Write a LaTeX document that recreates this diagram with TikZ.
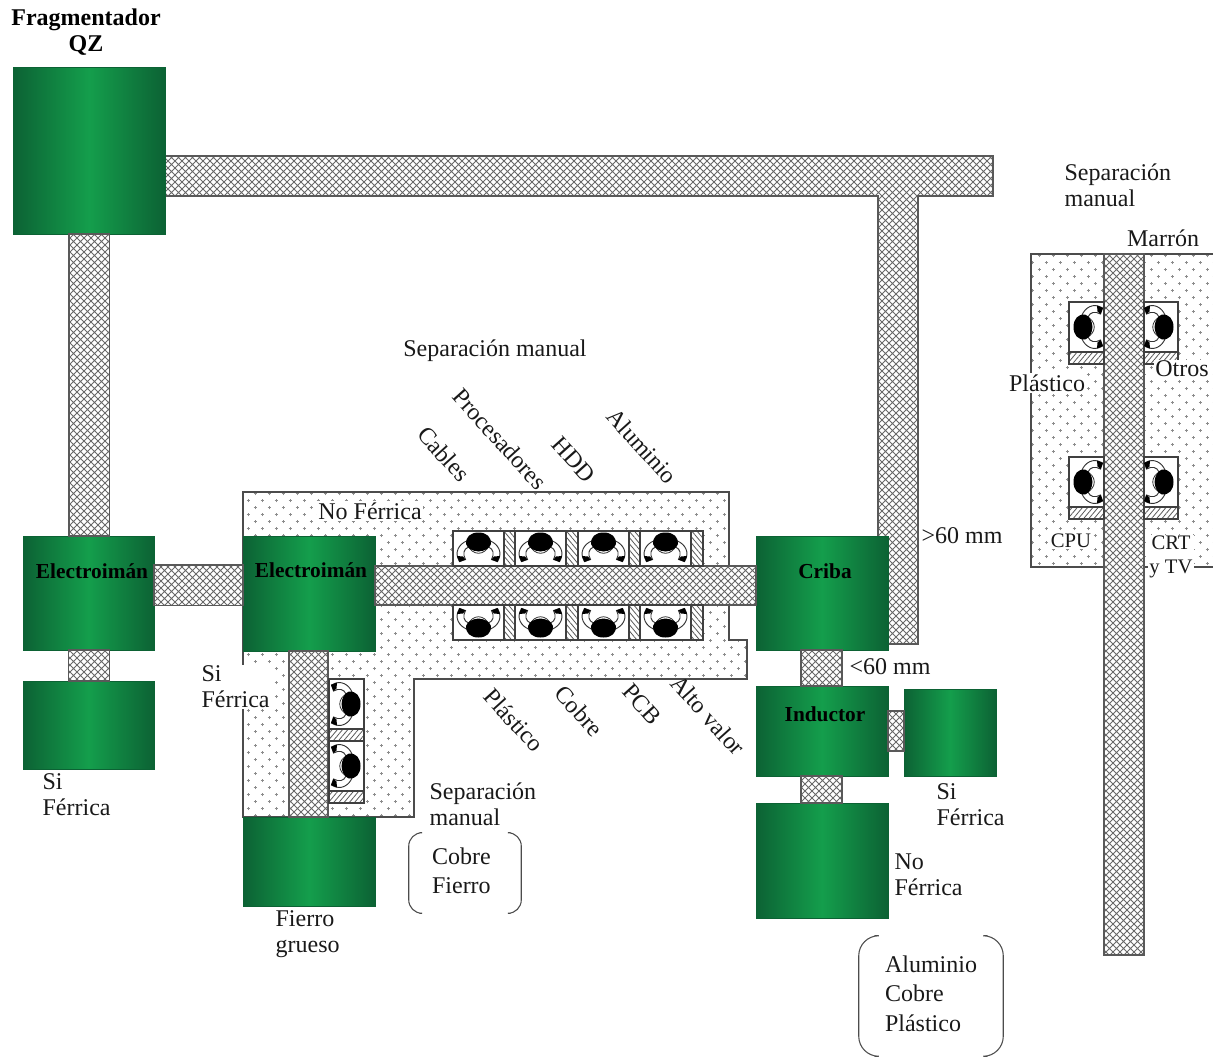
\documentclass[tikz,border=0pt]{standalone}
\usepackage{fontspec}
\setmainfont{Liberation Serif}
\usetikzlibrary{patterns,patterns.meta,calc}
\definecolor{gdark}{RGB}{12,98,52}
\definecolor{gmid}{RGB}{20,158,76}
\definecolor{beltgray}{RGB}{105,105,105}
\pgfdeclarepatternformonly{beltx}{\pgfqpoint{-0.1pt}{-0.1pt}}{\pgfqpoint{5.4pt}{5.4pt}}{\pgfqpoint{5.25pt}{5.25pt}}{
  \pgfsetlinewidth{0.7pt}
  \pgfpathmoveto{\pgfqpoint{0pt}{0pt}}\pgfpathlineto{\pgfqpoint{5.25pt}{5.25pt}}
  \pgfpathmoveto{\pgfqpoint{0pt}{5.25pt}}\pgfpathlineto{\pgfqpoint{5.25pt}{0pt}}
  \pgfusepath{stroke}}
\pgfdeclarepatternformonly{dotsp}{\pgfqpoint{0pt}{0pt}}{\pgfqpoint{11pt}{11pt}}{\pgfqpoint{10.5pt}{10.5pt}}{
  \pgfsetlinewidth{0.5pt}
  \pgfpathmoveto{\pgfqpoint{1.3pt}{2.6pt}}\pgfpathlineto{\pgfqpoint{3.9pt}{2.6pt}}
  \pgfpathmoveto{\pgfqpoint{2.6pt}{1.3pt}}\pgfpathlineto{\pgfqpoint{2.6pt}{3.9pt}}
  \pgfpathmoveto{\pgfqpoint{6.55pt}{7.85pt}}\pgfpathlineto{\pgfqpoint{9.15pt}{7.85pt}}
  \pgfpathmoveto{\pgfqpoint{7.85pt}{6.55pt}}\pgfpathlineto{\pgfqpoint{7.85pt}{9.15pt}}
  \pgfusepath{stroke}}
\tikzset{
  greenbox/.style={rectangle,inner sep=0pt,outer sep=0pt,left color=gdark,right color=gdark,middle color=gmid,draw=gdark,line width=.4pt},
  belt/.style={draw=beltgray!85!black,line width=.8pt,preaction={fill=white},pattern=beltx,pattern color=beltgray},
  dotted area/.style={draw=black!70,line width=.9pt,preaction={fill=white},pattern=dotsp,pattern color=black!45},
  station/.style={draw=black!75,fill=white,line width=.8pt},
  hatchA/.style={draw=black!75,line width=.8pt,preaction={fill=white},pattern={Lines[angle=-50,distance=3pt,line width=.6pt]},pattern color=black!65},
  hatchB/.style={draw=black!75,line width=.8pt,preaction={fill=white},pattern={Lines[angle=50,distance=3pt,line width=.6pt]},pattern color=black!65},
  txt/.style={font=\fontsize{18pt}{19.5pt}\selectfont,inner sep=1pt,align=left,text=black!90},
  lbl/.style={txt,fill=white},
  boxtxt/.style={font=\fontsize{16pt}{19pt}\selectfont\bfseries,inner sep=0pt,text=black},
  brk/.style={draw=black!70,line width=.8pt,rounded corners=#1},
  worker/.pic={
    \draw[black!80,fill=white,line width=.6pt] (-11,3) .. controls (-6,14) and (6,14) .. (11,3) .. controls (5,8) and (-5,8) .. cycle;
    \foreach \s in {1,-1}{
      \begin{scope}[xscale=\s]
        \draw[black!80,fill=white,line width=.7pt] (-12,-1) .. controls (-19,2) and (-25,10) .. (-19,19.5) -- (-13,17.5) .. controls (-16,12) and (-15,7) .. (-10,5) -- cycle;
        \fill[black] (-21.5,14) -- (-19,20) -- (-13,17.5) -- (-15.5,14.5) -- cycle;
      \end{scope}}
    \fill[black] (-12.5,2) .. controls (-13,-5) and (-8,-9.5) .. (0,-9.5) .. controls (8,-9.5) and (13,-5) .. (12.5,2) .. controls (11,6) and (7,9) .. (0,9.5) .. controls (-7,9) and (-11,6) .. cycle;
  }
}
\newcommand{\gbox}[5]{%
  \pgfmathsetlengthmacro{\gw}{(#4-#2)*.75pt}%
  \pgfmathsetlengthmacro{\gh}{(#5-#3)*.75pt}%
  \pgfmathsetmacro{\gx}{(#2+#4)/2}%
  \pgfmathsetmacro{\gy}{(#3+#5)/2}%
  \node[greenbox,minimum width=\gw,minimum height=\gh] (#1) at (\gx,\gy) {};}
\begin{document}
\begin{tikzpicture}[x=.75pt,y=-.75pt]
\useasboundingbox (0,0) rectangle (1213,1057);
% areas
\draw[dotted area] (729,605) -- (729,492) -- (243,492) -- (243,817) -- (414,817) -- (414,679) -- (747,679) -- (747,640) -- (729,640) -- cycle;
\draw[dotted area] (1213,254) -- (1031,254) -- (1031,567) -- (1213,567);
% belts under boxes
\draw[belt] (165,156) -- (993,156) -- (993,196) -- (918,196) -- (918,644) -- (878,644) -- (878,196) -- (165,196) -- cycle;
% green boxes
\gbox{frag}{13}{67}{165}{234}
\gbox{emA}{23}{536}{154}{650}
\gbox{sifA}{23}{681}{154}{769}
\gbox{emB}{243}{536}{375}{651}
\gbox{fierro}{243}{817}{375}{906}
\gbox{criba}{756}{536}{888}{650}
\gbox{ind}{756}{686}{888}{776}
\gbox{sifB}{904}{689}{996}{776}
\gbox{nof}{756}{803}{888}{918}
% belts between boxes
\draw[belt] ($(frag.south)+(-20,0)$) rectangle ($(emA.north)+(21,0)$);
\draw[belt] ($(emA.south)+(-20,0)$) rectangle ($(sifA.north)+(21,0)$);
\draw[belt] ($(emA.east)+(0,-28)$) rectangle ($(emB.west)+(0,12)$);
\draw[belt] ($(emB.east)+(0,-27.5)$) rectangle ($(criba.west)+(0,12)$);
\draw[belt] ($(emB.south)+(-20,0)$) rectangle ($(fierro.north)+(19,0)$);
\draw[belt] ($(criba.south)+(-21,0)$) rectangle ($(ind.north)+(20,0)$);
\draw[belt] ($(ind.east)+(0,-20)$) rectangle ($(sifB.west)+(0,18.5)$);
\draw[belt] ($(ind.south)+(-21,0)$) rectangle ($(nof.north)+(20,0)$);
% stations, central
\foreach \x in {453,515,578,640}{
  \draw[station] (\x,531) rectangle +(51,35);
  \draw[hatchA] (\x+51,531) rectangle +(12,35);
  \pic at (\x+25.5,542) {worker};
  \draw[station] (\x,605) rectangle +(51,35);
  \draw[hatchA] (\x+51,605) rectangle +(12,35);
  \pic[rotate=180] at (\x+25.5,628) {worker};
}
% stations, lower left
\foreach \y in {679,741}{
  \draw[station] (329,\y) rectangle +(35,50);
  \draw[hatchB] (329,\y+50) rectangle +(35,12);
  \pic[rotate=-90] at (351,\y+25) {worker};
}
% right panel
\draw[belt] (1104,254) rectangle (1144,955);
\foreach \y in {302,457}{
  \draw[station] (1069,\y) rectangle (1104,\y+50);
  \draw[hatchB] (1069,\y+50) rectangle (1104,\y+62);
  \pic[rotate=90] at (1083,\y+25) {worker};
  \draw[station] (1144,\y) rectangle (1178,\y+50);
  \draw[hatchB] (1144,\y+50) rectangle (1178,\y+62);
  \pic[rotate=-90] at (1164,\y+25) {worker};
}
% box labels
\node[boxtxt] (tA) at (92,571) {Electroimán};
\node[boxtxt] (tB) at (311,570) {Electroimán};
\node[boxtxt] (tC) at (825,571) {Criba};
\node[boxtxt] (tD) at (825,714) {Inductor};
\node[boxtxt,align=center,font=\fontsize{18pt}{20pt}\selectfont\bfseries] (tF) at (86,32) {Fragmentador\\QZ};
% white labels
\node[lbl] (n1) at (370,511) {No Férrica};
\node[lbl,anchor=west] (n2) at (200,687) {Si\\Férrica};
\node[lbl] (n3) at (1047,383) {Plástico};
\node[lbl] (n4) at (1182,369) {Otros};
\node[lbl,font=\fontsize{15.5pt}{17pt}\selectfont] (n5) at (1071,541) {CPU};
\node[lbl,align=center,font=\fontsize{15.5pt}{18pt}\selectfont] (n6) at (1171,557) {CRT\\y TV};
% plain labels
\node[txt] (m1) at (495,351) {Separación manual};
\node[txt,anchor=west] (m2) at (1063,185) {Separación\\manual};
\node[txt] (m3) at (1163,238) {Marrón};
\node[txt] (m4) at (962,536) {>60 mm};
\node[txt] (m5) at (890,667) {<60 mm};
\node[txt,anchor=west] (m6) at (41,795) {Si\\Férrica};
\node[txt,anchor=west] (m7) at (935,805) {Si\\Férrica};
\node[txt,anchor=west] (m8) at (893,875) {No\\Férrica};
\node[txt,anchor=west] (m9) at (428,804) {Separación\\manual};
\node[txt,anchor=west] (m10) at (274,934) {Fierro\\grueso};
% rotated labels
\node[txt,rotate=-48] (r1) at (444,454) {Cables};
\node[txt,rotate=-48] (r2) at (500,439) {Procesadores};
\node[txt,rotate=-48] (r3) at (574,460) {HDD};
\node[txt,rotate=-48] (r4) at (642,446) {Aluminio};
\node[txt,rotate=-48] (r5) at (514,720) {Plástico};
\node[txt,rotate=-48] (r6) at (579,711) {Cobre};
\node[txt,rotate=-48] (r7) at (642,704) {PCB};
\node[txt,rotate=-48] (r8) at (708,715) {Alto valor};
% bracketed lists
\node[txt,minimum width=84pt,minimum height=60pt,align=center,inner sep=0pt] (b1) at (465,873) {\fontsize{18pt}{22pt}\selectfont\hspace*{-.3em}\raisebox{-3pt}{\begin{tabular}{@{}l@{}}Cobre\\Fierro\end{tabular}}};
\draw[brk=10pt] ($(b1.north west)+(11,0)$) -- (b1.north west) -- (b1.south west) -- ($(b1.south west)+(11,0)$);
\draw[brk=10pt] ($(b1.north east)+(-11,0)$) -- (b1.north east) -- (b1.south east) -- ($(b1.south east)+(-11,0)$);
\node[txt,minimum width=108pt,minimum height=90pt,inner sep=0pt,align=left] (b2) at (931,996) {\fontsize{18pt}{22pt}\selectfont\begin{tabular}{@{}l@{}}Aluminio\\Cobre\\Plástico\end{tabular}};
\draw[brk=15pt] ($(b2.north west)+(16,0)$) -- (b2.north west) -- (b2.south west) -- ($(b2.south west)+(16,0)$);
\draw[brk=15pt] ($(b2.north east)+(-16,0)$) -- (b2.north east) -- (b2.south east) -- ($(b2.south east)+(-16,0)$);
\end{tikzpicture}
\end{document}
